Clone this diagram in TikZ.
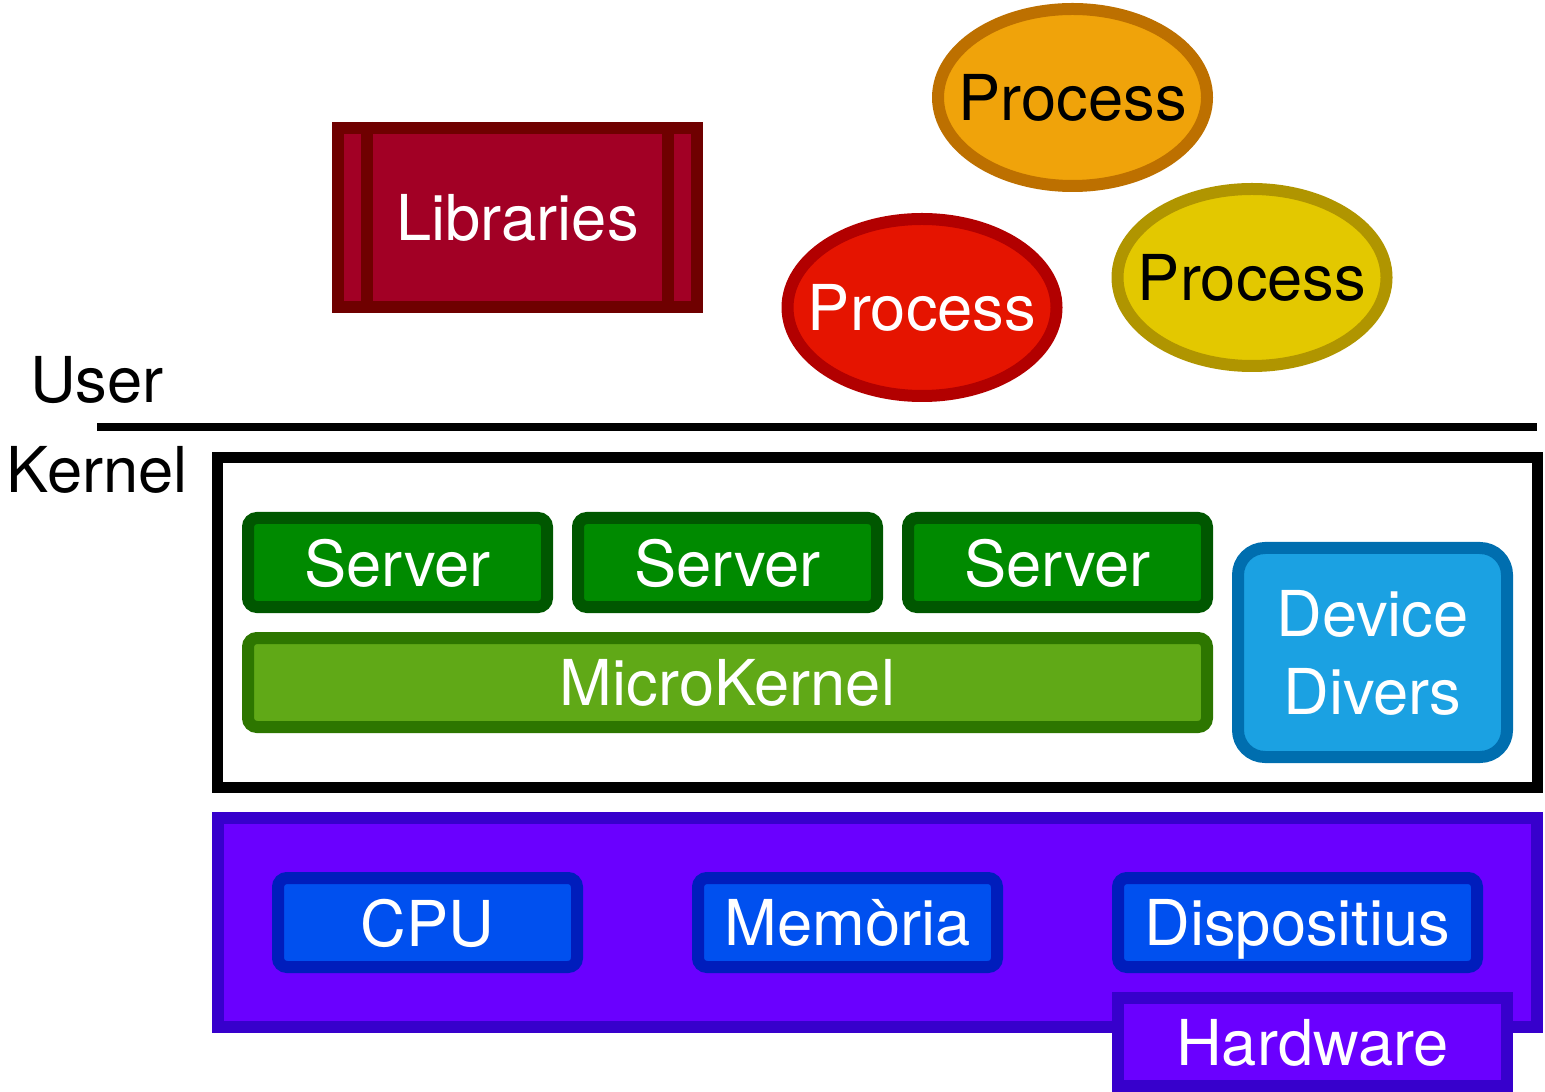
\documentclass[tikz,border=0pt]{standalone}
\usepackage{fontspec}
\setmainfont{TeX Gyre Heros}
\usetikzlibrary{shapes.geometric,calc}

\definecolor{libfill}{HTML}{A20025}
\definecolor{libline}{HTML}{6F0000}
\definecolor{orafill}{HTML}{F0A30A}
\definecolor{oraline}{HTML}{BD7000}
\definecolor{redfill}{HTML}{E51400}
\definecolor{redline}{HTML}{B20000}
\definecolor{yelfill}{HTML}{E3C800}
\definecolor{yelline}{HTML}{B09500}
\definecolor{srvfill}{HTML}{008A00}
\definecolor{srvline}{HTML}{005700}
\definecolor{mkfill}{HTML}{60A917}
\definecolor{mkline}{HTML}{2D7600}
\definecolor{devfill}{HTML}{1BA1E2}
\definecolor{devline}{HTML}{006EAF}
\definecolor{hwfill}{HTML}{6A00FF}
\definecolor{hwline}{HTML}{3700CC}
\definecolor{cpufill}{HTML}{0050EF}
\definecolor{cpuline}{HTML}{001DBC}

\begin{document}
\begin{tikzpicture}[
    base/.style={inner sep=0pt, font=\fontsize{18}{22}\selectfont, line width=0.12cm, text depth=0pt},
    blk/.style={base, draw, rectangle, text=white},
    rblk/.style={blk, rounded corners=0.09cm, minimum width=2.99cm, minimum height=0.89cm},
    proc/.style={base, draw, ellipse, minimum width=2.69cm, minimum height=1.77cm},
    tag/.style={base, anchor=base west}
]
    \useasboundingbox (0,0) rectangle (15.45,-10.92);

    % user space
    \node[blk, fill=libfill, draw=libline, minimum width=3.59cm, minimum height=1.79cm] (lib) at (5.175,-2.175) {Libraries};
    \draw[libline, line width=0.12cm] ($(lib.north west)+(0.35,0)$) -- ($(lib.south west)+(0.35,0)$);
    \draw[libline, line width=0.12cm] ($(lib.north east)-(0.35,0)$) -- ($(lib.south east)-(0.35,0)$);

    \node[proc, fill=orafill, draw=oraline] (procA) at (10.725,-0.975) {\makebox[0pt]{Process}};
    \node[proc, fill=redfill, draw=redline, text=white] (procB) at (9.22,-3.075) {\makebox[0pt]{Process}};
    \node[proc, fill=yelfill, draw=yelline] (procC) at (12.52,-2.775) {\makebox[0pt]{Process}};

    % separator
    \node[tag] (user) at (0.24,-4.03) {User};
    \node[tag] (kern) at (0.01,-4.93) {Kernel};
    \coordinate (sepL) at (0.97,-4.275);
    \coordinate (sepR) at (15.37,-4.275);
    \draw[line width=0.08cm] (sepL) -- (sepR);

    % kernel
    \node[draw, line width=0.11cm, minimum width=13.2cm, minimum height=3.3cm, inner sep=0pt] (kbox) at (8.775,-6.225) {};
    \node[rblk, fill=srvfill, draw=srvline] (srvA) at (3.975,-5.625) {Server};
    \node[rblk, fill=srvfill, draw=srvline] (srvB) at (7.275,-5.625) {Server};
    \node[rblk, fill=srvfill, draw=srvline] (srvC) at (10.575,-5.625) {Server};
    \node[rblk, fill=mkfill, draw=mkline, minimum width=9.59cm] (mk) at (7.275,-6.825) {MicroKernel};
    \node[blk, rounded corners=0.27cm, fill=devfill, draw=devline, minimum width=2.69cm, minimum height=2.09cm, align=center] (dev) at (13.725,-6.525) {Device\\Divers};

    % hardware
    \node[blk, fill=hwfill, draw=hwline, minimum width=13.19cm, minimum height=2.09cm] (hw) at (8.775,-9.225) {};
    \node[blk, fill=hwfill, draw=hwline, minimum width=3.89cm, minimum height=0.88cm] (hwtab) at (13.125,-10.42) {Hardware};
    \node[rblk, fill=cpufill, draw=cpuline] (cpu) at (4.275,-9.225) {CPU};
    \node[rblk, fill=cpufill, draw=cpuline] (mem) at (8.475,-9.225) {Memòria};
    \node[rblk, fill=cpufill, draw=cpuline, minimum width=3.59cm] (disp) at (12.975,-9.225) {Dispositius};
\end{tikzpicture}
\end{document}
